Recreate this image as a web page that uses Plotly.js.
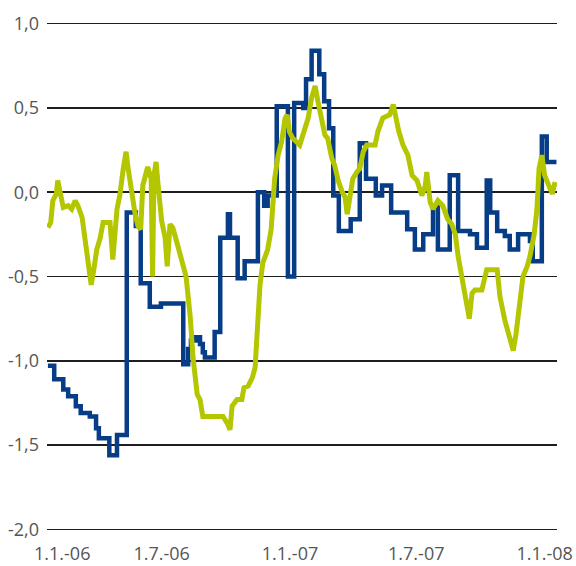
<!DOCTYPE html>
<html>
<head>
<meta charset="utf-8">
<script src="https://cdn.plot.ly/plotly-3.0.1.min.js"></script>
<style>html,body{margin:0;padding:0;background:#fff;}#chart{width:576px;height:566px;}</style>
</head>
<body>
<div id="chart"></div>
<script>
// Blue series (step line)
var blueDates = [
 '2006-01-19','2006-01-28','2006-02-10','2006-02-17','2006-02-28','2006-03-07','2006-03-20','2006-03-29','2006-04-02','2006-04-17',
 '2006-04-28','2006-05-12','2006-05-25','2006-06-01','2006-06-14','2006-06-30','2006-08-01','2006-08-08','2006-08-12','2006-08-19',
 '2006-08-25','2006-08-29','2006-09-01','2006-09-15','2006-09-23','2006-10-04','2006-10-07','2006-10-18','2006-10-28','2006-11-16',
 '2006-11-25','2006-11-30','2006-12-13','2006-12-29','2007-01-07','2007-01-20','2007-01-24','2007-02-01','2007-02-12','2007-02-19',
 '2007-02-26','2007-03-04','2007-03-12','2007-03-29','2007-04-11','2007-04-20','2007-05-04','2007-05-13','2007-05-26','2007-06-18',
 '2007-06-29','2007-07-11','2007-07-25','2007-08-01','2007-08-18','2007-08-30','2007-09-16','2007-09-26','2007-10-10','2007-10-15',
 '2007-10-25','2007-11-05','2007-11-12','2007-11-24','2007-12-11','2007-12-15','2007-12-28','2008-01-04','2008-01-18'
];
var blueValues = [
 -1.03,-1.11,-1.17,-1.21,-1.27,-1.31,-1.33,-1.40,-1.46,-1.56,
 -1.44,-0.12,-0.20,-0.54,-0.68,-0.66,-1.02,-0.93,-0.88,-0.86,
 -0.90,-0.95,-0.98,-0.83,-0.27,-0.13,-0.27,-0.51,-0.41,0.00,
 -0.08,-0.02,0.51,-0.50,0.53,0.50,0.67,0.84,0.70,0.54,
 0.38,-0.02,-0.23,-0.16,0.29,0.08,-0.02,0.04,-0.12,-0.22,
 -0.34,-0.25,-0.08,-0.34,0.10,-0.23,-0.25,-0.33,0.07,-0.12,
 -0.23,-0.26,-0.34,-0.25,-0.29,-0.41,0.33,0.18,0.18
];

// Yellow-green series
var greenDates = [
 '2006-01-19','2006-01-23','2006-01-26','2006-01-31','2006-02-02','2006-02-07','2006-02-10','2006-02-17','2006-02-22','2006-02-27',
 '2006-03-03','2006-03-09','2006-03-13','2006-03-17','2006-03-22','2006-03-25','2006-03-30','2006-04-04','2006-04-08','2006-04-18',
 '2006-04-22','2006-04-28','2006-05-02','2006-05-07','2006-05-11','2006-05-14','2006-05-19','2006-05-24','2006-05-28','2006-06-01',
 '2006-06-04','2006-06-11','2006-06-16','2006-06-18','2006-06-20','2006-06-23','2006-06-26','2006-07-01','2006-07-06','2006-07-09',
 '2006-07-13','2006-07-17','2006-07-23','2006-07-27','2006-08-01','2006-08-05','2006-08-11','2006-08-15','2006-08-21','2006-08-25',
 '2006-08-29','2006-09-27','2006-10-03','2006-10-07','2006-10-10','2006-10-17','2006-10-24','2006-10-27','2006-11-02','2006-11-08',
 '2006-11-12','2006-11-15','2006-11-19','2006-11-23','2006-11-30','2006-12-05','2006-12-10','2006-12-15','2006-12-20','2006-12-25',
 '2006-12-28','2006-12-31','2007-01-05','2007-01-15','2007-01-20','2007-01-27','2007-02-01','2007-02-06','2007-02-10','2007-02-16',
 '2007-02-20','2007-02-24','2007-03-02','2007-03-06','2007-03-11','2007-03-17','2007-03-21','2007-03-24','2007-03-28','2007-04-01',
 '2007-04-07','2007-04-11','2007-04-16','2007-04-21','2007-05-03','2007-05-07','2007-05-14','2007-05-24','2007-05-29','2007-06-02',
 '2007-06-06','2007-06-12','2007-06-19','2007-06-25','2007-07-02','2007-07-09','2007-07-14','2007-07-16','2007-07-21','2007-07-25',
 '2007-08-01','2007-08-08','2007-08-15','2007-08-21','2007-08-26','2007-08-30','2007-09-05','2007-09-09','2007-09-15','2007-09-19',
 '2007-09-23','2007-10-03','2007-10-10','2007-10-25','2007-10-29','2007-11-05','2007-11-12','2007-11-17','2007-11-21','2007-11-27',
 '2007-12-01','2007-12-07','2007-12-11','2007-12-17','2007-12-21','2007-12-24','2007-12-28','2008-01-01','2008-01-06','2008-01-12',
 '2008-01-16'
];
var greenValues = [
 -0.21,-0.18,-0.05,-0.01,0.07,-0.04,-0.09,-0.08,-0.10,-0.05,
 -0.08,-0.15,-0.27,-0.44,-0.55,-0.48,-0.34,-0.27,-0.18,-0.18,
 -0.40,-0.10,-0.02,0.14,0.24,0.14,0.00,-0.13,-0.20,-0.22,
 0.04,0.15,0.08,-0.50,0.10,0.18,0.04,-0.17,-0.27,-0.44,
 -0.19,-0.21,-0.30,-0.36,-0.42,-0.50,-0.74,-0.98,-1.20,-1.23,
 -1.33,-1.33,-1.37,-1.41,-1.27,-1.23,-1.23,-1.16,-1.15,-1.10,
 -1.04,-0.86,-0.55,-0.42,-0.34,-0.22,0.08,0.22,0.30,0.44,
 0.46,0.36,0.32,0.28,0.34,0.44,0.56,0.63,0.54,0.40,
 0.34,0.32,0.20,0.16,0.07,0.00,-0.03,-0.13,-0.02,0.08,
 0.12,0.14,0.24,0.28,0.28,0.36,0.44,0.46,0.52,0.42,
 0.36,0.28,0.22,0.10,0.07,-0.02,0.04,0.12,-0.06,-0.10,
 -0.05,-0.08,-0.16,-0.19,-0.25,-0.38,-0.52,-0.62,-0.75,-0.60,
 -0.58,-0.58,-0.46,-0.46,-0.62,-0.76,-0.88,-0.94,-0.84,-0.60,
 -0.50,-0.44,-0.38,-0.25,-0.10,0.14,0.22,0.10,0.04,-0.01,
 0.06
];

// Axis labels
var xTickVals = ['2006-07-01','2007-01-01','2007-07-01','2008-01-01'];
var xTickText = ['1.7.-06','1.1.-07','1.7.-07','1.1.-08'];
var firstXLabel = '1.1.-06';
var yTickVals = [-2, -1.5, -1, -0.5, 0, 0.5, 1];
var yTickText = ['-2,0','-1,5','-1,0','-0,5','0,0','0,5','1,0'];

var labelFont = {family: '"Open Sans", "DejaVu Sans", sans-serif', size: 18, color: '#555555'};

var traces = [
  {x: blueDates, y: blueValues, type: 'scatter', mode: 'lines',
   line: {color: '#073d86', width: 4.5, shape: 'hv'}, hoverinfo: 'skip'},
  {x: greenDates, y: greenValues, type: 'scatter', mode: 'lines',
   line: {color: '#b3c600', width: 5, shape: 'linear'}, hoverinfo: 'skip'}
];

var layout = {
  width: 576, height: 566,
  margin: {l: 47, r: 19, t: 22, b: 35, pad: 0},
  paper_bgcolor: '#ffffff', plot_bgcolor: '#ffffff',
  showlegend: false,
  font: labelFont,
  xaxis: {
    type: 'date',
    range: ['2006-01-17 16:00', '2008-01-18 18:00'],
    tickmode: 'array', tickvals: xTickVals, ticktext: xTickText,
    showgrid: false, zeroline: false, showline: false, ticks: '',
    ticklabelstandoff: 10,
    tickfont: labelFont
  },
  yaxis: {
    range: [-2.01, 1.01],
    tickmode: 'array', tickvals: yTickVals, ticktext: yTickText,
    showgrid: true, gridcolor: '#1e1e1e', gridwidth: 1.5,
    zeroline: false, showline: false, ticks: '',
    ticklabelstandoff: 7,
    tickfont: labelFont
  },
  annotations: [
    {text: firstXLabel, xref: 'paper', yref: 'paper', x: 0, y: 0,
     xanchor: 'center', yanchor: 'top', xshift: 15, yshift: -10,
     borderpad: 0, borderwidth: 0,
     showarrow: false, font: labelFont}
  ]
};

Plotly.newPlot('chart', traces, layout, {displayModeBar: false, staticPlot: true});
</script>
</body>
</html>
